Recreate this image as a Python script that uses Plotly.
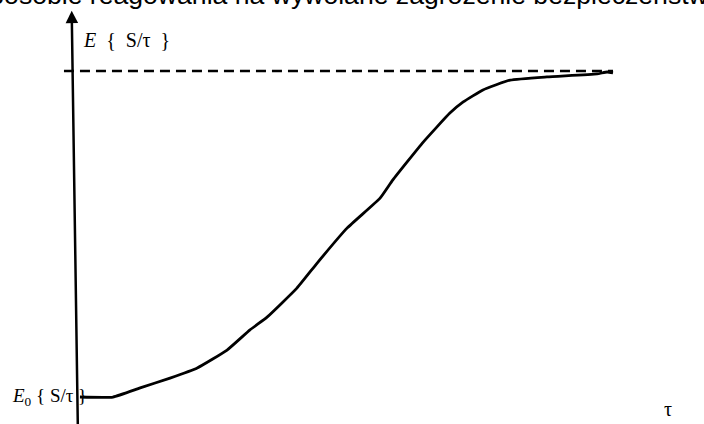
import plotly.graph_objects as go

# Curve readings (tau normalised so the curve ends at 1, E normalised so E0=0, E_inf=1)
tau = [0.0, 0.062, 0.113, 0.169, 0.220, 0.276, 0.319, 0.351, 0.407, 0.445, 0.501,
       0.563, 0.587, 0.644, 0.694, 0.719, 0.756, 0.807, 0.876, 0.970, 0.989, 1.0]
E = [0.0, 0.0, 0.028, 0.058, 0.089, 0.144, 0.206, 0.245, 0.334, 0.411, 0.518,
     0.610, 0.666, 0.782, 0.871, 0.905, 0.942, 0.972, 0.982, 0.991, 0.997, 0.994]

asymptote_tau = [-0.030, 1.0]
asymptote_E = [1.0, 1.0]

title_text = "sposobie reagowania na wywołane zagrożenie bezpieczeństwa"
y_label = "<i>E</i>&nbsp;&nbsp;{&nbsp;&nbsp;S/τ&nbsp;&nbsp;}"
y0_label = "<i>E</i><sub>0</sub> { S/τ }"
x_label = "τ"

serif = "Liberation Serif, Times New Roman, serif"

fig = go.Figure()
fig.add_trace(go.Scatter(x=asymptote_tau, y=asymptote_E, mode="lines",
                         line=dict(color="black", width=2.5, dash="10px,6px"),
                         showlegend=False, hoverinfo="skip"))
fig.add_trace(go.Scatter(x=tau, y=E, mode="lines",
                         line=dict(color="black", width=2.8, shape="spline", smoothing=0.4),
                         showlegend=False, hoverinfo="skip"))

annotations = [
    # vertical axis with arrow
    dict(x=-0.0155, y=1.185, ax=-0.004, ay=-0.09, xref="x", yref="y",
         axref="x", ayref="y", text="", showarrow=True, arrowhead=2,
         arrowsize=1, arrowwidth=2.5, arrowcolor="black", standoff=0),
    dict(x=0.002, y=1.095, xref="x", yref="y", text=y_label, showarrow=False,
         xanchor="left", yanchor="middle",
         font=dict(family=serif, size=20, color="black")),
    dict(x=0.0175, y=0.0, xref="x", yref="y", text=y0_label, showarrow=False,
         xanchor="right", yanchor="middle",
         font=dict(family=serif, size=19, color="black")),
    dict(x=1.103, y=-0.037, xref="x", yref="y", text=x_label, showarrow=False,
         xanchor="center", yanchor="middle",
         font=dict(family=serif, size=20, color="black")),
    dict(x=-0.037, y=0.9715, xref="paper", yref="paper", text=title_text,
         showarrow=False, xanchor="left", yanchor="bottom",
         font=dict(family="Liberation Sans, Arial, sans-serif", size=26.6, color="black")),
]

fig.update_layout(
    width=704, height=424,
    margin=dict(l=0, r=0, t=0, b=0),
    paper_bgcolor="white", plot_bgcolor="white",
    xaxis=dict(range=[-0.15, 1.1707], visible=False, fixedrange=True),
    yaxis=dict(range=[-0.0828, 1.2178], visible=False, fixedrange=True),
    annotations=annotations,
    showlegend=False,
)

fig.write_html("out.html", config={"displayModeBar": False},
               post_script="document.body.style.margin='0';document.body.style.overflow='hidden';")
